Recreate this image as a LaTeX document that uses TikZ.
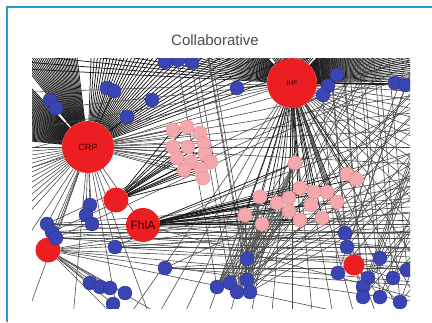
\documentclass[tikz,border=0pt]{standalone}
\usepackage{fontspec}
\setsansfont{Liberation Sans}
\usepackage{tikz}
\usetikzlibrary{backgrounds}
\definecolor{hubred}{RGB}{236,30,34}
\definecolor{tfblue}{RGB}{58,68,178}
\definecolor{genepink}{RGB}{242,168,172}
\definecolor{framecol}{RGB}{40,155,200}

\begin{document}
\begin{tikzpicture}[x=1pt,y=1pt]
                \tikzstyle{every node}+=[inner sep=0pt]
                \tikzstyle{hub}=[circle,fill=hubred,text=black!75!red,font=\sffamily]
                \tikzstyle{tf}=[circle,fill=tfblue,draw=tfblue!70!black,line width=0.3pt,minimum size=14pt]
                \tikzstyle{gene}=[circle,fill=genepink,draw=genepink!75!red,line width=0.3pt,minimum size=14pt]
                \tikzstyle{fan}=[draw=black!90,line width=0.75pt]
                \tikzstyle{edge}=[draw=black!70,line width=0.6pt]
                \useasboundingbox (0,0) rectangle (432,-322);
                \draw [framecol,line width=1.3pt] (7,-322) -- (7,-7) -- (432,-7);
                \node [font=\sffamily\fontsize{15}{18}\selectfont,text=black!70] (ttl) at (215,-40) {Collaborative};
                % the nodes
                \begin{scope}
                \clip (32,-58) rectangle (410,-308);
                \node [hub,minimum size=52pt,font=\sffamily\small] (crp) at (88,-147) {CRP};
                \node [hub,minimum size=50pt,font=\sffamily\scriptsize] (ihf) at (292,-83) {IHF};
                \node [hub,minimum size=34pt,font=\sffamily\fontsize{12}{14}\selectfont] (fhla) at (143,-225) {FhlA};
                \node [hub,minimum size=25pt] (sa) at (116,-200) {};
                \node [hub,minimum size=25pt] (sb) at (48,-250) {};
                \node [hub,minimum size=21pt] (sc) at (354,-265) {};
                \foreach \x/\y [count=\i] in {173/130,187/127,200/133,204/143,173/147,188/147,205/154,
                    211/162,177/158,191/162,201/169,203/178,184/170}
                    \node [gene] (ga\i) at (\x,-\y) {};
                \foreach \x/\y [count=\i] in {295/163,347/174,356/179,300/188,314/192,327/192,337/202,
                    260/197,277/203,289/198,289/211,300/220,322/218,245/215,262/224,311/205}
                    \node [gene] (gb\i) at (\x,-\y) {};
                \foreach \x/\y [count=\i] in {50/100,56/108,107/88,114/91,152/100,127/117,165/62,178/60,
                    192/62,237/88,337/75,328/86,323/95,395/83,405/85,
                    90/205,86/215,92/224,47/224,52/232,56/238,115/247,165/268,
                    90/283,100/287,110/288,125/293,113/304,
                    247/259,217/287,230/283,247/280,250/292,237/292,
                    345/233,347/247,338/273,380/258,393/278,407/270,368/278,363/287,363/297,380/297,400/302}
                    \node [tf] (t\i) at (\x,-\y) {};
                \end{scope}
                % the edges
                \begin{pgfonlayer}{background}
                \begin{scope}
                \clip (32,-58) rectangle (410,-308);
                \foreach \a in {97,98,...,128,134,135,...,174,20,22,...,88}
                    {\path (crp) ++(\a:320) coordinate (e); \draw [fan] (crp) -- (e);}
                \foreach \a in {-3,0,3,6,9,12,15,180,184,...,228,236,250,265,280,290}
                    {\path (crp) ++(\a:420) coordinate (e); \draw [edge] (crp) -- (e);}
                \foreach \a in {0,1,...,45,50,53,...,130,135,136.5,...,178}
                    {\path (ihf) ++(\a:320) coordinate (e); \draw [fan] (ihf) -- (e);}
                \foreach \a in {182,186,...,200,235,240,...,310,316,320,...,356}
                    {\path (ihf) ++(\a:420) coordinate (e); \draw [edge] (ihf) -- (e);}
                \foreach \a in {-2,-5,-8,-12,3,6,10,-30,-45}
                    {\path (sb) ++(\a:420) coordinate (e); \draw [edge] (sb) -- (e);}
                \foreach \a in {5,10,15,20,-5,-15,-2,1}
                    {\path (fhla) ++(\a:420) coordinate (e); \draw [edge] (fhla) -- (e);}
                \foreach \i in {29,...,34}
                    \foreach \a in {30,45,60,100}
                        {\path (t\i) ++(\a:420) coordinate (e); \draw [edge] (t\i) -- (e);}
                \foreach \i in {35,...,45}
                    \foreach \a in {50,70,95}
                        {\path (t\i) ++(\a:420) coordinate (e); \draw [edge] (t\i) -- (e);}
                \foreach \i in {19,20,21,22,23}
                    \foreach \a in {-4,0,4,25}
                        {\path (t\i) ++(\a:420) coordinate (e); \draw [edge] (t\i) -- (e);}
                \foreach \i in {1,...,13} \draw [edge] (crp) -- (ga\i);
                \foreach \i in {1,...,13} \draw [fan] (sa) -- (ga\i);
                \foreach \i in {1,...,16} \draw [fan] (ihf) -- (gb\i);
                \foreach \i in {1,...,16} \draw [fan] (fhla) -- (gb\i);
                \foreach \i in {1,...,6} \draw [fan] (crp) -- (t\i);
                \foreach \i in {16,...,22} \draw [edge] (crp) -- (t\i);
                \foreach \i in {10,...,15} \draw [fan] (ihf) -- (t\i);
                \foreach \i in {24,...,28} \draw [edge] (sb) -- (t\i);
                \foreach \i in {35,...,45} \draw [edge] (sc) -- (t\i);
                \foreach \i in {1,4,8,14,15} \foreach \j in {29,...,34} \draw [edge] (gb\i) -- (t\j);
                \draw [edge] (crp) -- (sa);
                \draw [edge] (crp) -- (sb);
                \draw [edge] (crp) -- (fhla);
                \draw [edge] (ihf) -- (sc);
                \draw [edge] (ihf) -- (t35);
                \draw [edge] (ihf) -- (t36);
                \end{scope}
                \end{pgfonlayer}
            \end{tikzpicture}
\end{document}
